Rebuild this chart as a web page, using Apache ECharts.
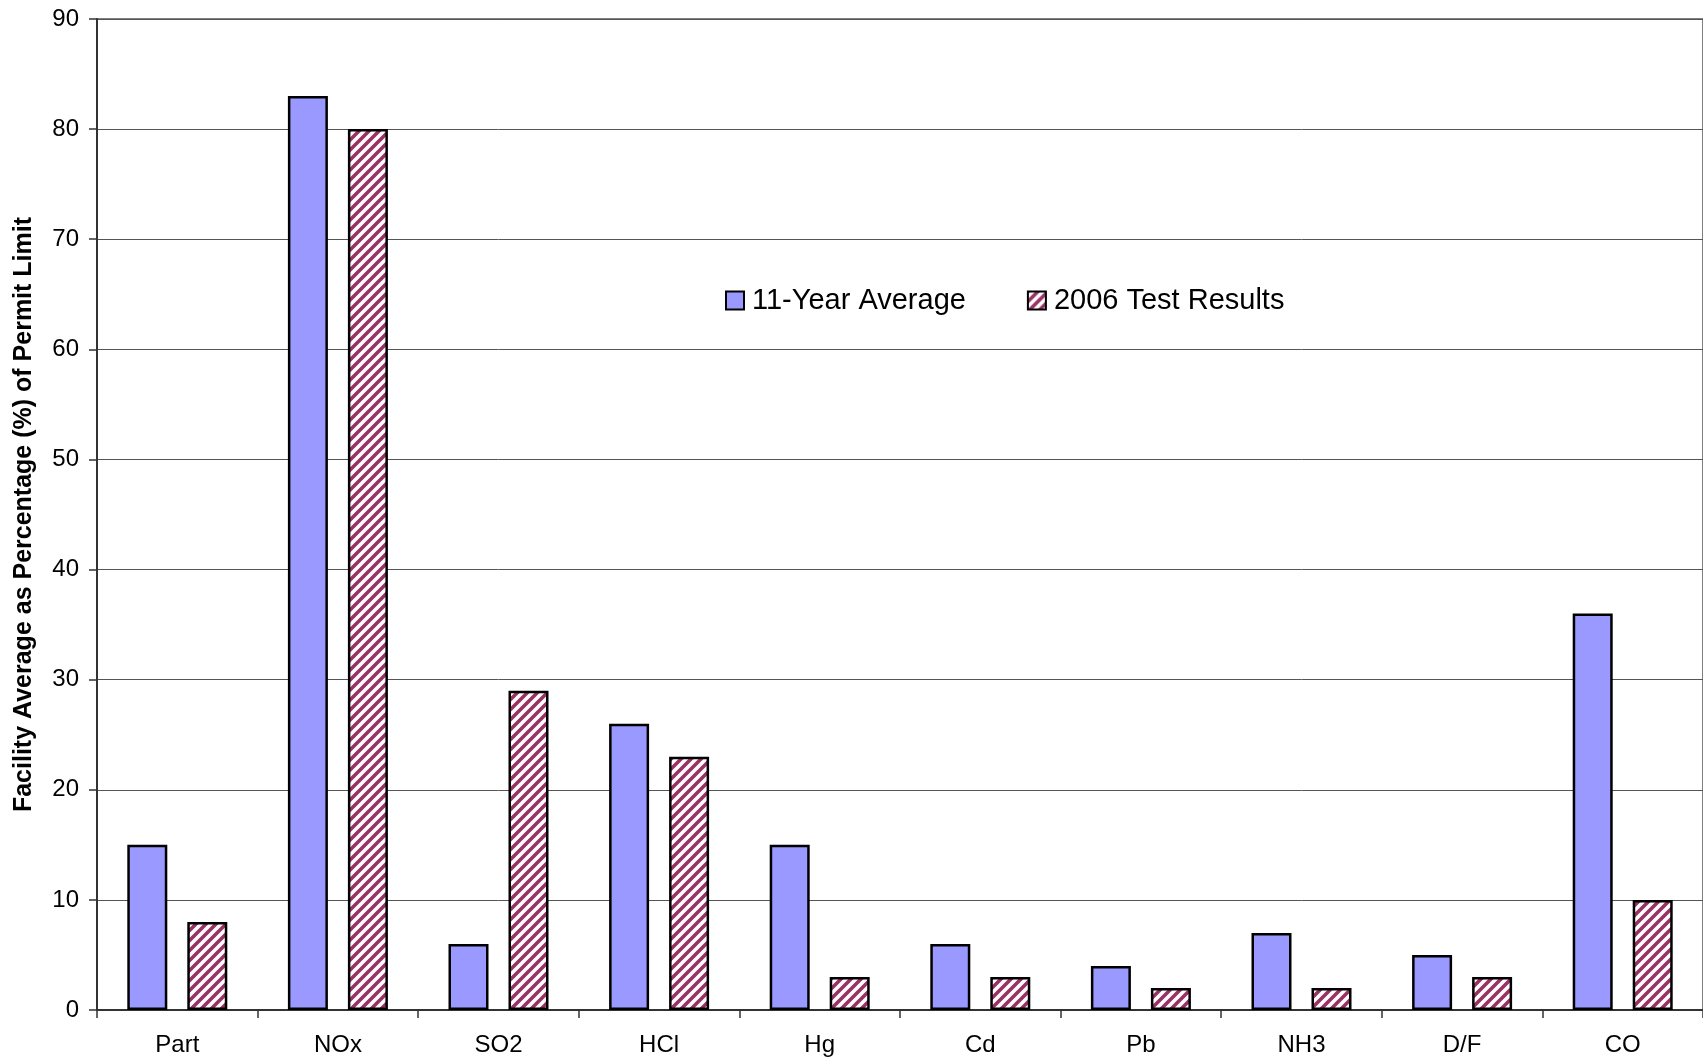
<!DOCTYPE html>
<html>
<head>
<meta charset="utf-8">
<script src="https://cdn.jsdelivr.net/npm/echarts@6/dist/echarts.min.js"></script>
<style>
html,body{margin:0;padding:0;background:#fff;}
#chart{width:1703px;height:1060px;}
</style>
</head>
<body>
<div id="chart"></div>
<script>
var categories = ['Part','NOx','SO2','HCl','Hg','Cd','Pb','NH3','D/F','CO'];
var avg11 = [15, 83, 6, 26, 15, 6, 4, 7, 5, 36];
var test2006 = [8, 80, 29, 23, 3, 3, 2, 2, 3, 10];
var seriesNames = ['11-Year Average', '2006 Test Results'];

function makeHatch() {
  var c = document.createElement('canvas');
  var s = 10;
  c.width = s; c.height = s;
  var ctx = c.getContext('2d');
  ctx.fillStyle = '#ffffff';
  ctx.fillRect(0, 0, s, s);
  ctx.strokeStyle = '#993366';
  ctx.lineWidth = 3.6;
  ctx.beginPath();
  ctx.moveTo(-s, s * 2); ctx.lineTo(s * 2, -s);
  ctx.moveTo(-s, s); ctx.lineTo(s, -s);
  ctx.moveTo(0, s * 2); ctx.lineTo(s * 2, 0);
  ctx.stroke();
  return c;
}

var chart = echarts.init(document.getElementById('chart'), null, {renderer: 'canvas'});
var font = 'Liberation Sans, Arial, sans-serif';
chart.setOption({
  animation: false,
  backgroundColor: '#ffffff',
  grid: {left: 97, right: 0, top: 19, bottom: 50, show: true, borderColor: '#808080', borderWidth: 2},
  legend: {
    left: 720, top: 281,
    itemWidth: 18, itemHeight: 18, itemGap: 61,
    icon: 'rect',
    textStyle: {fontFamily: font, fontSize: 29, color: '#000', padding: [0, 0, 0, 3]},
    data: seriesNames
  },
  xAxis: {
    type: 'category',
    data: categories,
    axisLine: {lineStyle: {color: '#333', width: 2}},
    axisTick: {show: true, length: 8, lineStyle: {color: '#333', width: 1.5}},
    axisLabel: {fontFamily: font, fontSize: 24, color: '#000', margin: 23}
  },
  yAxis: {
    type: 'value',
    min: 0, max: 90, interval: 10,
    name: 'Facility Average as Percentage (%) of Permit Limit',
    nameLocation: 'middle',
    nameGap: 60,
    nameTextStyle: {fontFamily: font, fontSize: 25, fontWeight: 'bold', color: '#000'},
    axisLine: {show: true, lineStyle: {color: '#333', width: 2}},
    axisTick: {show: true, length: 8, lineStyle: {color: '#333', width: 1.5}},
    axisLabel: {fontFamily: font, fontSize: 24, color: '#000', margin: 18},
    splitLine: {show: true, lineStyle: {color: '#555', width: 1}}
  },
  series: [
    {
      name: seriesNames[0], type: 'bar', data: avg11,
      barWidth: 40, barGap: '50%',
      itemStyle: {color: '#9999FF', borderColor: '#000', borderWidth: 2.5}
    },
    {
      name: seriesNames[1], type: 'bar', data: test2006,
      barWidth: 40, barGap: '50%',
      itemStyle: {color: {image: makeHatch(), repeat: 'repeat'}, borderColor: '#000', borderWidth: 2.5}
    }
  ]
});
</script>
</body>
</html>
